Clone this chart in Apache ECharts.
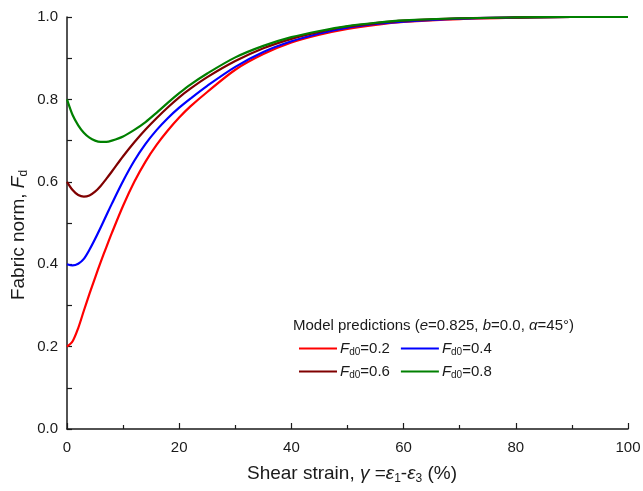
<!DOCTYPE html>
<html>
<head>
<meta charset="utf-8">
<script src="https://cdn.jsdelivr.net/npm/echarts@6/dist/echarts.min.js"></script>
<style>
  html, body { margin: 0; padding: 0; background: #fff; }
  #chart { width: 643px; height: 491px; }
</style>
</head>
<body>
<div id="chart"></div>
<script>
// shear strain (%)
const strain = [0, 1, 2, 3, 4, 5, 6, 7, 8, 10, 12, 14, 16, 18, 20, 22, 25, 30, 35, 40, 45, 50, 55, 60, 70, 80, 90, 100];

// fabric norm for each initial value Fd0
const fd02 = [0.200, 0.213, 0.245, 0.287, 0.328, 0.367, 0.405, 0.441, 0.476, 0.542, 0.600, 0.649, 0.690, 0.725, 0.756, 0.783, 0.818, 0.872, 0.910, 0.938, 0.957, 0.971, 0.981, 0.988, 0.995, 0.998, 1.0, 1.0];
const fd04 = [0.400, 0.397, 0.401, 0.413, 0.435, 0.461, 0.489, 0.518, 0.547, 0.602, 0.651, 0.692, 0.726, 0.755, 0.780, 0.802, 0.833, 0.879, 0.915, 0.941, 0.960, 0.974, 0.983, 0.989, 0.996, 0.999, 1.0, 1.0];
const fd06 = [0.600, 0.580, 0.568, 0.564, 0.567, 0.576, 0.590, 0.607, 0.625, 0.662, 0.696, 0.727, 0.755, 0.781, 0.805, 0.826, 0.854, 0.893, 0.924, 0.947, 0.964, 0.977, 0.985, 0.991, 0.997, 0.999, 1.0, 1.0];
const fd08 = [0.800, 0.762, 0.737, 0.719, 0.707, 0.700, 0.697, 0.697, 0.700, 0.710, 0.726, 0.745, 0.768, 0.792, 0.815, 0.836, 0.863, 0.902, 0.930, 0.951, 0.966, 0.978, 0.986, 0.992, 0.997, 0.999, 1.0, 1.0];

const seriesNames = ['0.2', '0.4', '0.6', '0.8'];
const seriesData = [fd02, fd04, fd06, fd08];
const colors = ['#ff0000', '#0000ff', '#800000', '#008000'];

const font = '"Liberation Sans", Arial, sans-serif';
const ink = '#1a1a1a';

const legendRich = {
  i: { fontFamily: font, fontSize: 15, fontStyle: 'italic', color: ink },
  s: { fontFamily: font, fontSize: 10, color: ink, padding: [7, 0, 0, 0] },
  n: { fontFamily: font, fontSize: 15, color: ink }
};

// rich styles for the axis titles (graphic text uses fill)
const nameRich = {
  n: { fontFamily: font, fontSize: 19, fill: ink },
  i: { fontFamily: font, fontSize: 19, fontStyle: 'italic', fill: ink },
  s: { fontFamily: font, fontSize: 12, fill: ink, padding: [9, 0, 0, 0] }
};

function legendFmt(name) {
  return '{i|F}{s|d0}{n|=' + name + '}';
}

function makeLegend(names, top) {
  return {
    data: names,
    left: 294,
    top: top,
    orient: 'horizontal',
    itemWidth: 38,
    itemHeight: 2,
    itemGap: 11,
    icon: 'rect',
    formatter: legendFmt,
    textStyle: { rich: legendRich, padding: [0, 0, 0, -2] }
  };
}

const chart = echarts.init(document.getElementById('chart'), null, { renderer: 'canvas' });

const option = {
  animation: false,
  backgroundColor: '#fff',
  color: colors,
  grid: { left: 67, right: 15, top: 17, bottom: 62, containLabel: false, outerBoundsMode: 'none' },
  legend: [
    makeLegend(['0.2', '0.4'], 336),
    makeLegend(['0.6', '0.8'], 359)
  ],
  graphic: [{
    type: 'text',
    left: 293,
    top: 318,
    style: {
      text: '{n|Model predictions (}{i|e}{n|=0.825, }{i|b}{n|=0.0, }{i|α}{n|=45°)}',
      rich: {
        n: { fontFamily: font, fontSize: 15, fill: ink },
        i: { fontFamily: font, fontSize: 15, fontStyle: 'italic', fill: ink }
      }
    }
  }, {
    type: 'text',
    x: 352,
    y: 474,
    style: {
      text: '{n|Shear strain, }{i|γ}{n| =}{i|ε}{s|1}{n|-}{i|ε}{s|3}{n| (%)}',
      rich: nameRich,
      align: 'center',
      verticalAlign: 'middle'
    }
  }, {
    type: 'text',
    x: 19,
    y: 235,
    rotation: Math.PI / 2,
    style: {
      text: '{n|Fabric norm, }{i|F}{s|d}',
      rich: nameRich,
      align: 'center',
      verticalAlign: 'middle'
    }
  }],
  xAxis: {
    type: 'value',
    min: 0,
    max: 100,
    interval: 20,
    axisLine: { onZero: false, lineStyle: { color: ink, width: 1.5 } },
    axisTick: { inside: true, length: 6, lineStyle: { color: ink, width: 1.2 } },
    minorTick: { show: true, splitNumber: 2, length: 4, lineStyle: { color: ink, width: 1.2 } },
    axisLabel: { fontFamily: font, fontSize: 15, color: ink, margin: 11 },
    splitLine: { show: false }
  },
  yAxis: {
    type: 'value',
    min: 0,
    max: 1,
    interval: 0.2,
    axisLine: { show: true, onZero: false, lineStyle: { color: ink, width: 1.5 } },
    axisTick: { show: true, inside: true, length: 5, lineStyle: { color: ink, width: 1.2 } },
    minorTick: { show: true, splitNumber: 2, length: 5, lineStyle: { color: ink, width: 1.2 } },
    axisLabel: {
      fontFamily: font, fontSize: 15, color: ink, margin: 9,
      formatter: v => v.toFixed(1)
    },
    splitLine: { show: false }
  },
  series: seriesNames.map((n, k) => ({
    name: n,
    type: 'line',
    data: strain.map((x, j) => [x, seriesData[k][j]]),
    showSymbol: false,
    smooth: 0.3,
    lineStyle: { width: 2.2, color: colors[k] },
    itemStyle: { color: colors[k] },
    z: 2 + k
  }))
};

chart.setOption(option);
</script>
</body>
</html>
